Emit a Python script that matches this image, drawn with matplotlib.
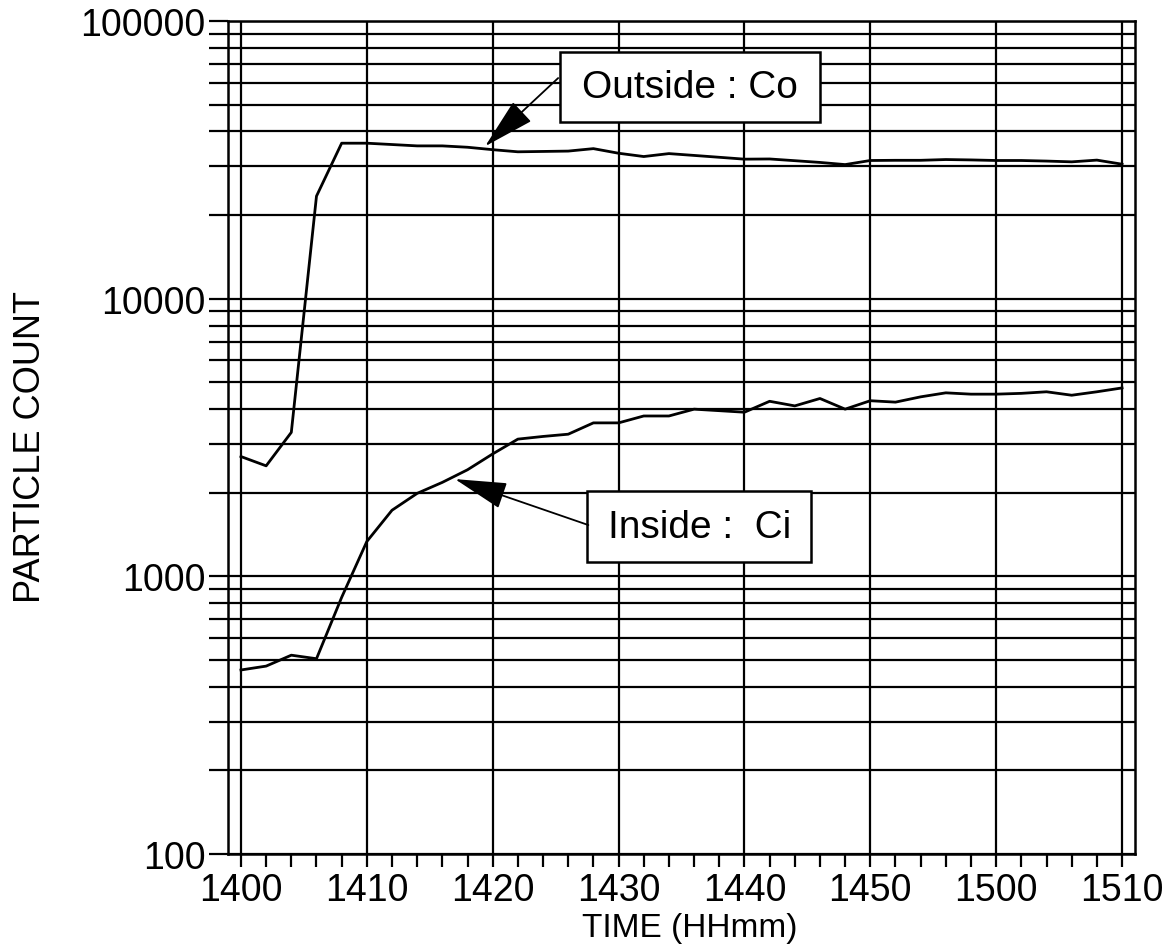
import numpy as np
import matplotlib
matplotlib.use("Agg")
import matplotlib.pyplot as plt
from matplotlib.patches import Rectangle
from matplotlib.ticker import FixedLocator, NullFormatter

plt.rcParams['font.family'] = ['Liberation Sans', 'DejaVu Sans']

# minutes after 14:00
minutes = [0, 2, 4, 6, 8, 10, 12, 14, 16, 18, 20, 22, 24, 26, 28, 30, 32, 34,
           36, 38, 40, 42, 44, 46, 48, 50, 52, 54, 56, 58, 60, 62, 64, 66, 68, 70]

outside_co = [2700, 2500, 3300, 23400, 36300, 36300, 35900, 35500, 35500, 35100,
              34400, 33800, 33900, 34000, 34700, 33400, 32500, 33300, 32800, 32300,
              31800, 31850, 31400, 30950, 30400, 31450, 31500, 31500, 31700, 31600,
              31450, 31450, 31300, 31100, 31550, 30500]

inside_ci = [460, 475, 520, 505, 840, 1335, 1730, 1990, 2180, 2420,
             2760, 3120, 3190, 3250, 3570, 3570, 3780, 3780, 4000, 3950,
             3900, 4270, 4110, 4370, 4000, 4290, 4240, 4430, 4580, 4530,
             4530, 4560, 4620, 4490, 4620, 4770]

tick_minutes = [0, 10, 20, 30, 40, 50, 60, 70]
tick_labels = ['1400', '1410', '1420', '1430', '1440', '1450', '1500', '1510']
y_ticks = [100, 1000, 10000, 100000]
y_labels = ['100', '1000', '10000', '100000']

fig = plt.figure(figsize=(11.74, 9.53), dpi=100)
ax = fig.add_axes([228 / 1174, 1 - 855 / 953, 907 / 1174, 833 / 953])

ax.set_yscale('log')
ax.set_xlim(-1.03, 71.03)
ax.set_ylim(100, 100000)

# grid: every log decade subdivision plus 10-minute verticals
ax.set_yticks(y_ticks)
ax.set_yticklabels(y_labels)
minor_y = [m * d for d in (100, 1000, 10000) for m in range(2, 10)]
ax.yaxis.set_minor_locator(FixedLocator(minor_y))
ax.yaxis.set_minor_formatter(NullFormatter())
ax.set_xticks(tick_minutes)
ax.set_xticklabels(tick_labels)
ax.xaxis.set_minor_locator(FixedLocator(np.arange(0, 71, 2)))

ax.grid(True, which='both', axis='y', color='black', lw=1.6)
ax.grid(True, which='major', axis='x', color='black', lw=1.6)

ax.tick_params(axis='both', which='both', direction='out', color='black', width=1.6, labelsize=27)
ax.tick_params(axis='y', which='both', length=14, pad=2)
ax.tick_params(axis='x', which='both', length=9, pad=4)
for s in ax.spines.values():
    s.set_linewidth(1.8)
    s.set_color('black')

ax.plot(minutes, outside_co, color='black', lw=2.0)
ax.plot(minutes, inside_ci, color='black', lw=2.0)

ax.set_xlabel('TIME (HHmm)', fontsize=24)
ax.set_ylabel('PARTICLE COUNT', fontsize=26)
ax.xaxis.set_label_coords(0.509, -0.070)
ax.yaxis.set_label_coords(-0.198, 0.49)

# label boxes (axes fraction)
for x0, y0, w, h in [(0.366, 0.879, 0.287, 0.084), (0.396, 0.3505, 0.247, 0.0852)]:
    ax.add_patch(Rectangle((x0, y0), w, h, transform=ax.transAxes, fc='white',
                           ec='black', lw=1.8, zorder=5))

ax.text(0.366 + 0.287 / 2, 0.879 + 0.042, 'Outside : Co', transform=ax.transAxes,
        fontsize=28, ha='center', va='center', zorder=6)
ax.text(0.396 + 0.247 / 2, 0.3505 + 0.0426, 'Inside :  Ci', transform=ax.transAxes,
        fontsize=28, ha='center', va='center', zorder=6)

arrow = dict(arrowstyle='-|>,head_length=3.3,head_width=0.85', mutation_scale=10,
             color='black', lw=1.3, shrinkA=0, shrinkB=0)
ax.annotate('', xy=(19.4, 35400), xytext=(25.2, 62300), arrowprops=arrow, zorder=6)
ax.annotate('', xy=(17.0, 2240), xytext=(27.6, 1530), arrowprops=arrow, zorder=6)

fig.savefig('out.png', dpi=100)
